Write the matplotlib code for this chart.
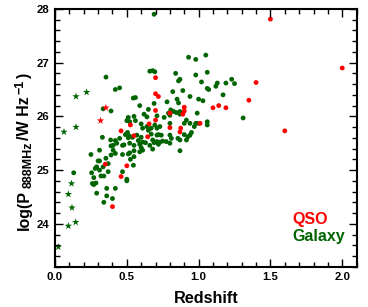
import matplotlib
matplotlib.use("Agg")
import matplotlib.pyplot as plt
from matplotlib.ticker import MultipleLocator
from matplotlib.transforms import IdentityTransform

plt.rcParams['font.family'] = ['Liberation Sans', 'DejaVu Sans']
plt.rcParams['font.weight'] = 'bold'

# QSO (red)
qso_z = [1.50, 2.00, 1.40, 1.35, 1.60, 1.10, 1.14, 1.19,
         0.70, 0.70, 0.72, 0.70, 0.70,
         0.90, 0.90, 0.89,
         0.80, 0.80, 0.87, 0.875,
         0.46, 0.525, 0.55, 0.645, 0.655,
         1.01, 0.35, 0.50, 0.46, 0.40]
qso_p = [27.81, 26.90, 26.63, 26.30, 25.73, 26.16, 26.20, 26.16,
         26.72, 26.42, 26.37, 26.11, 25.93,
         26.17, 26.10, 26.04,
         26.06, 25.79, 25.71, 25.78,
         25.73, 25.84, 25.64, 25.62, 25.86,
         25.87, 25.11, 25.08, 24.88, 24.32]

qso_star_z = [0.354, 0.317]
qso_star_p = [26.16, 25.92]

# Galaxy (green)
gal_z = [0.69, 0.93, 0.98, 1.05,
         0.66, 0.68, 0.695, 0.84, 0.98, 1.06, 0.355,
         0.86, 0.87, 1.02, 1.12, 1.13, 1.19, 1.23, 1.25,
         0.42, 0.45, 0.82, 0.89, 1.06, 1.07, 1.17,
         0.545, 0.56, 0.94, 0.78, 0.85, 0.86, 1.00, 1.03, 0.69, 0.59,
         0.335, 0.39, 0.65, 0.62, 0.64, 0.71,
         0.806, 0.826, 0.845, 0.87, 0.87, 0.79, 0.80, 0.99, 0.76,
         0.51, 0.52, 0.55, 0.56, 0.50,
         0.80, 0.915, 0.94, 0.98, 1.00, 1.06, 1.06, 0.90, 1.31,
         0.60, 0.61, 0.64, 0.65, 0.67, 0.695, 0.71, 0.73, 0.97,
         0.95, 0.94, 0.925, 0.80, 0.81, 0.74, 0.856, 0.87, 0.90,
         0.775, 0.73, 0.72, 0.68, 0.63,
         0.505, 0.52, 0.54, 0.57, 0.60, 0.49, 0.51,
         0.33, 0.387, 0.405, 0.39, 0.42, 0.45, 0.43, 0.48,
         0.58, 0.59, 0.60, 0.61,
         0.67, 0.71, 0.66, 0.68, 0.71,
         0.47, 0.52, 0.55,
         0.25, 0.31, 0.30, 0.31,
         0.354, 0.405, 0.42, 0.39, 0.47, 0.52, 0.55, 0.51,
         0.59, 0.61, 0.69, 0.72, 0.75, 0.80, 0.87, 0.915,
         0.546, 0.525, 0.55,
         0.47, 0.50, 0.50,
         0.28, 0.29, 0.31, 0.335, 0.37, 0.37,
         0.255, 0.27, 0.32, 0.34,
         0.26, 0.27, 0.285, 0.29, 0.36, 0.42, 0.36, 0.40, 0.34,
         0.13]
gal_p = [27.90, 27.10, 27.06, 27.14,
         26.84, 26.85, 26.83, 26.80, 26.77, 26.82, 26.73,
         26.66, 26.69, 26.64, 26.56, 26.62, 26.62, 26.69, 26.61,
         26.50, 26.53, 26.46, 26.48, 26.52, 26.50, 26.40,
         26.34, 26.35, 26.37, 26.27, 26.32, 26.25, 26.32, 26.29, 26.24, 26.20,
         26.14, 26.10, 26.13, 26.04, 25.99, 26.01,
         26.12, 26.09, 26.07, 26.09, 26.04, 26.06, 26.02, 26.06, 25.98,
         25.98, 25.90, 26.00, 25.92, 25.92,
         25.87, 25.93, 25.87, 25.87, 25.87, 25.90, 25.84, 25.87, 25.97,
         25.86, 25.78, 25.81, 25.74, 25.78, 25.84, 25.78, 25.81, 25.81,
         25.70, 25.65, 25.62, 25.65, 25.59, 25.65, 25.59, 25.56, 25.66,
         25.53, 25.52, 25.66, 25.56, 25.51,
         25.70, 25.63, 25.61, 25.65, 25.61, 25.66, 25.60,
         25.61, 25.56, 25.46, 25.45, 25.55, 25.59, 25.50, 25.47,
         25.55, 25.48, 25.42, 25.52,
         25.67, 25.65, 25.46, 25.39, 25.53,
         25.46, 25.50, 25.46,
         25.29, 25.37, 25.17, 25.17,
         25.22, 25.37, 25.31, 25.28, 25.29, 25.32, 25.36, 25.30,
         25.34, 25.37, 25.51, 25.48, 25.54, 25.50, 25.36, 25.56,
         25.09, 25.20, 25.25,
         24.97, 24.83, 24.80,
         25.03, 25.06, 25.00, 25.06, 24.97, 25.12,
         24.95, 24.86, 24.89, 24.89,
         24.75, 24.73, 24.76, 24.57, 24.66, 24.66, 24.52, 24.47, 24.40,
         24.95]

gal_star_z = [0.023, 0.093, 0.144, 0.118, 0.093, 0.115, 0.0625, 0.146, 0.146, 0.22]
gal_star_p = [23.57, 23.96, 24.03, 24.30, 24.55, 24.75, 25.71, 25.80, 26.37, 26.45]

# y label pieces: text, size, baseline shift (px, + = subscript)
ylabel_parts = [('log(P', 11.5, 0), ('888MHz', 9, 3), ('/W Hz', 11.5, 0),
                ('\u22121', 9, -6), (')', 11.5, 0)]

red = '#ff0000'
green = '#006400'

fig = plt.figure(figsize=(3.68, 3.07), dpi=100)
ax = fig.add_axes([0.1495, 0.131, 0.8195, 0.84])

ax.scatter(gal_z, gal_p, s=12, color=green, edgecolors='none')
ax.scatter(qso_z, qso_p, s=12, color=red, edgecolors='none')
ax.scatter(gal_star_z, gal_star_p, s=32, marker='*', color=green, edgecolors='none')
ax.scatter(qso_star_z, qso_star_p, s=32, marker='*', color=red, edgecolors='none')

ax.set_xlim(0, 2.1)
ax.set_ylim(23.2, 28)
ax.xaxis.set_major_locator(MultipleLocator(0.5))
ax.xaxis.set_minor_locator(MultipleLocator(0.1))
ax.yaxis.set_major_locator(MultipleLocator(1))
ax.yaxis.set_minor_locator(MultipleLocator(0.2))
ax.xaxis.set_major_formatter(plt.FormatStrFormatter('%.1f'))
ax.tick_params(which='both', direction='in', top=True, right=True, width=1)
ax.tick_params(which='major', length=6, labelsize=8.2, pad=4)
ax.tick_params(which='minor', length=3.5)
for sp in ax.spines.values():
    sp.set_linewidth(1.5)

ax.set_xlabel('Redshift', fontsize=11.7, fontweight='bold', labelpad=6)

# y label built piece by piece (bigger sub/superscripts, like the ROOT original)
renderer = fig.canvas.get_renderer()
ypos = 307 - 230
for s, size, shift in ylabel_parts:
    t = fig.text(29 + shift, ypos, s, fontsize=size, fontweight='bold', rotation=90,
                 rotation_mode='anchor', ha='left', va='baseline',
                 transform=IdentityTransform())
    ypos += t.get_window_extent(renderer).height + 2

ax.text(1.65, 23.99, 'QSO', color=red, fontsize=11.5, fontweight='bold', va='baseline')
ax.text(1.65, 23.68, 'Galaxy', color=green, fontsize=11.5, fontweight='bold', va='baseline')

fig.savefig('out.png', dpi=100)
